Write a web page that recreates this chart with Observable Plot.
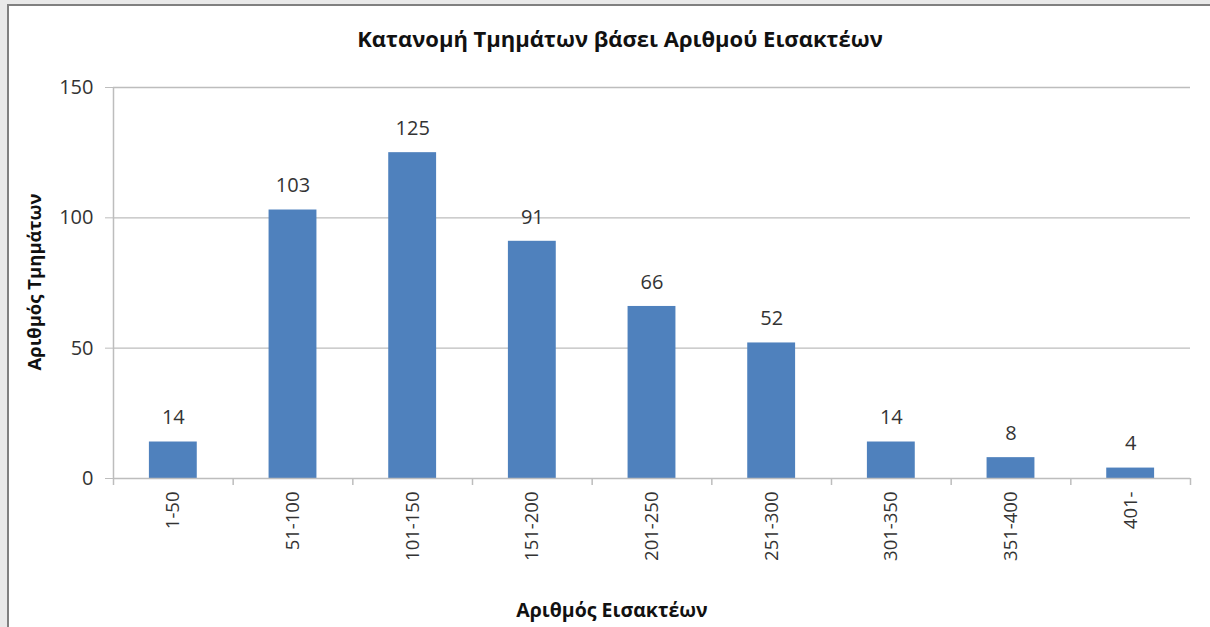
<!DOCTYPE html>
<html>
<head>
<meta charset="utf-8">
<script src="https://cdn.jsdelivr.net/npm/d3@7"></script>
<script src="https://cdn.jsdelivr.net/npm/@observablehq/plot@0.6"></script>
<style>
  html, body { margin: 0; padding: 0; width: 1210px; height: 627px; overflow: hidden; background: #e9e9e9; font-family: "Open Sans", sans-serif; }
  #frame { position: absolute; left: 7px; top: 4px; width: 1203px; height: 623px; background: #fff; border-left: 2px solid #808080; border-top: 2px solid #808080; box-sizing: border-box; }
  #chart { position: absolute; left: 0; top: 0; }
  .lbl { position: absolute; font-weight: bold; color: #111; white-space: nowrap; }
  #title { left: 620px; top: 38px; transform: translate(-50%, -50%); font-size: 22px; }
  #xlab { left: 612px; top: 609px; transform: translate(-50%, -50%); font-size: 19.5px; }
  #ylab { left: 33px; top: 282px; transform: translate(-50%, -50%) rotate(-90deg); font-size: 18.5px; }
</style>
</head>
<body>
<div id="frame"></div>
<div id="chart"></div>
<div id="title" class="lbl">Κατανομή Τμημάτων βάσει Αριθμού Εισακτέων</div>
<div id="ylab" class="lbl">Αριθμός Τμημάτων</div>
<div id="xlab" class="lbl">Αριθμός Εισακτέων</div>
<script>
const categories = ["1-50", "51-100", "101-150", "151-200", "201-250", "251-300", "301-350", "351-400", "401-"];
const counts = [14, 103, 125, 91, 66, 52, 14, 8, 4];
const yTicks = [0, 50, 100, 150];

const data = categories.map((c, i) => ({cat: c, n: counts[i]}));

const W = 1210, H = 627;
const mL = 113, mR = 20, mT = 87, mB = 149;
const step = (W - mL - mR) / categories.length;
const gridColor = "#bdbdbd";

const chart = Plot.plot({
  width: W,
  height: H,
  marginLeft: mL,
  marginRight: mR,
  marginTop: mT,
  marginBottom: mB,
  style: {background: "transparent", fontFamily: "'Open Sans', sans-serif"},
  x: {domain: categories, paddingInner: 0.6, paddingOuter: 0.3, round: false},
  y: {domain: [0, 150]},
  marks: [
    Plot.gridY(yTicks.filter(d => d > 0), {stroke: gridColor, strokeOpacity: 1, strokeWidth: 1.3}),
    Plot.axisY(yTicks, {tickSize: 8, tickPadding: 12, stroke: gridColor, fontSize: 20, color: "#333", label: null}),
    Plot.barY(data, {x: "cat", y: "n", fill: "#4F81BD"}),
    Plot.ruleY([0], {stroke: gridColor, strokeWidth: 1.5}),
    Plot.ruleX([categories[0]], {x: d => d, y1: 0, y2: 150, dx: -step / 2, stroke: gridColor, strokeWidth: 1.5}),
    Plot.ruleX(categories, {x: d => d, y1: 0, y2: 0, insetBottom: -7, dx: -step / 2, stroke: gridColor, strokeWidth: 1.5}),
    Plot.ruleX([categories[categories.length - 1]], {x: d => d, y1: 0, y2: 0, insetBottom: -7, dx: step / 2, stroke: gridColor, strokeWidth: 1.5}),
    Plot.text(data, {x: "cat", y: "n", text: d => String(d.n), dy: -24, fontSize: 20, fill: "#333"}),
    Plot.axisX({tickSize: 0, tickPadding: 13, tickRotate: -90, fontSize: 18.5, color: "#333", label: null})
  ]
});
document.getElementById("chart").appendChild(chart);
</script>
</body>
</html>
